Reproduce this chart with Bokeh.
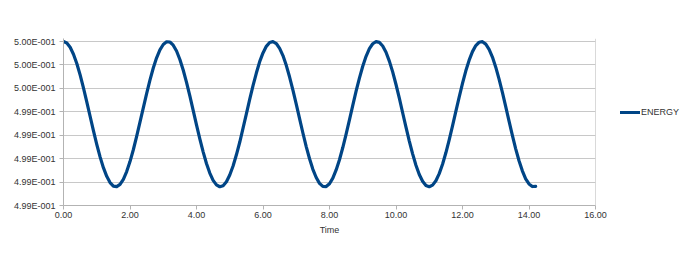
from bokeh.plotting import figure
from bokeh.models import (FixedTicker, CustomJSTickFormatter, NumeralTickFormatter,
                          Range1d, Legend, LegendItem, Span)
from bokeh.embed import file_html
from bokeh.resources import INLINE

# Data (Time step 0.1, from 0.0 to 14.2)
time = [round(i * 0.1, 1) for i in range(143)]
energy = [
    0.500000, 0.499988, 0.499951, 0.499892, 0.499812, 0.499715, 0.499604, 0.499485,
    0.499362, 0.499239, 0.499122, 0.499015, 0.498923, 0.498849, 0.498796, 0.498766,
    0.498761, 0.498780, 0.498824, 0.498890, 0.498975, 0.499076, 0.499190, 0.499311,
    0.499434, 0.499556, 0.499671, 0.499774, 0.499861, 0.499929, 0.499975, 0.499998,
    0.499996, 0.499969, 0.499919, 0.499847, 0.499757, 0.499652, 0.499536, 0.499413,
    0.499289, 0.499169, 0.499058, 0.498959, 0.498877, 0.498815, 0.498776, 0.498760,
    0.498769, 0.498803, 0.498860, 0.498937, 0.499033, 0.499140, 0.499260, 0.499382,
    0.499506, 0.499624, 0.499731, 0.499828, 0.499903, 0.499959, 0.499992, 0.499999,
    0.499983, 0.499942, 0.499880, 0.499797, 0.499697, 0.499585, 0.499465, 0.499341,
    0.499219, 0.499103, 0.498999, 0.498909, 0.498839, 0.498789, 0.498763, 0.498762,
    0.498786, 0.498834, 0.498904, 0.498991, 0.499095, 0.499209, 0.499332, 0.499455,
    0.499576, 0.499688, 0.499789, 0.499874, 0.499939, 0.499981, 0.499999, 0.499993,
    0.499962, 0.499909, 0.499833, 0.499741, 0.499633, 0.499516, 0.499392, 0.499270,
    0.499150, 0.499041, 0.498944, 0.498865, 0.498807, 0.498771, 0.498760, 0.498774,
    0.498811, 0.498872, 0.498952, 0.499050, 0.499161, 0.499280, 0.499404, 0.499526,
    0.499643, 0.499750, 0.499841, 0.499914, 0.499966, 0.499994, 0.499999, 0.499978,
    0.499934, 0.499867, 0.499781, 0.499679, 0.499565, 0.499444, 0.499320, 0.499199,
    0.499084, 0.498982, 0.498896, 0.498828, 0.498784, 0.498762, 0.498764,
]
x_ticks = [0, 2, 4, 6, 8, 10, 12, 14, 16]
y_ticks = [0.4986, 0.4988, 0.4990, 0.4992, 0.4994, 0.4996, 0.4998, 0.5000]
series_name = "ENERGY"
x_title = "Time"

FONT = "Liberation Sans"
TXT = "#333333"
GRID = "#c8c8c8"

p = figure(frame_width=532, frame_height=167, output_backend="svg", toolbar_location=None,
           x_range=Range1d(0, 16), y_range=Range1d(0.4986, 0.500026),
           min_border_left=63, min_border_right=105, min_border_top=38,
           min_border_bottom=54)
p.outline_line_color = None
p.background_fill_color = "white"
p.border_fill_color = "white"

r = p.line(time, energy, line_color="#004586", line_width=3.2,
           line_join="round", line_cap="round")

# axes
p.xaxis.ticker = FixedTicker(ticks=x_ticks)
p.xaxis.formatter = NumeralTickFormatter(format="0.00")
p.yaxis.ticker = FixedTicker(ticks=y_ticks)
p.yaxis.formatter = CustomJSTickFormatter(code="""
const s = tick.toExponential(2).split('e');
const e = parseInt(s[1]);
return s[0] + 'E' + (e < 0 ? '-' : '+') + String(Math.abs(e)).padStart(3, '0');
""")
for ax in (p.xaxis, p.yaxis):
    ax.major_label_text_font = FONT
    ax.major_label_text_font_size = "9px"
    ax.major_label_text_color = TXT
    ax.axis_line_color = "#b3b3b3"
    ax.major_tick_line_color = "#b3b3b3"
    ax.major_tick_out = 4
    ax.major_tick_in = 0
    ax.minor_tick_line_color = None
p.xaxis.major_label_standoff = 2
p.yaxis.major_label_standoff = 4
p.xaxis.axis_label = x_title
p.xaxis.axis_label_text_font = FONT
p.xaxis.axis_label_text_font_size = "9px"
p.xaxis.axis_label_text_font_style = "normal"
p.xaxis.axis_label_text_color = TXT
p.xaxis.axis_label_standoff = 4

p.xgrid.grid_line_color = None
p.ygrid.grid_line_color = GRID
p.ygrid.grid_line_width = 1

p.add_layout(Span(location=16, dimension="height", line_color="#b3b3b3", line_width=1))

legend = Legend(items=[LegendItem(label=series_name, renderers=[r])],
                location=(25, 88), margin=0, padding=0, spacing=0,
                label_text_font=FONT, label_text_font_size="9px",
                label_text_color=TXT, glyph_width=20, glyph_height=10,
                label_standoff=1, label_height=10, border_line_color=None,
                background_fill_alpha=0)
p.add_layout(legend, "right")

open("out.html", "w").write(file_html(p, INLINE))
